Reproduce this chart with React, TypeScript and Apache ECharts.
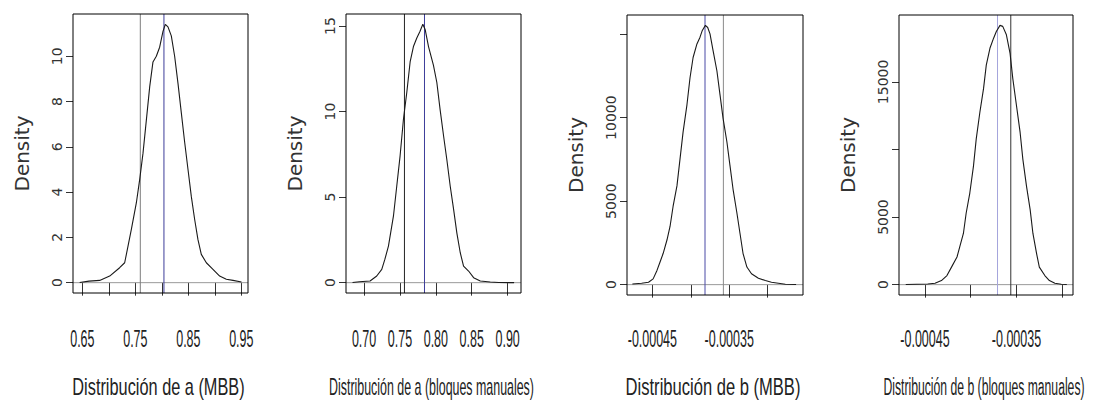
import React, { useEffect, useRef } from "react";
import * as echarts from "echarts";

// ---- Data ----
const xA1 = [0.645, 0.6626, 0.6827, 0.7016, 0.7204, 0.7299, 0.7362, 0.7425, 0.7519, 0.7582, 0.7645, 0.7708, 0.7771, 0.7833, 0.7896, 0.7959, 0.8022, 0.8066, 0.8116, 0.8179, 0.8242, 0.8305, 0.8368, 0.8431, 0.8494, 0.8557, 0.8619, 0.8682, 0.8745, 0.884, 0.8965, 0.9091, 0.9217, 0.9343, 0.9503];
const yA1 = [0.01, 0.07, 0.1, 0.29, 0.66, 0.88, 1.61, 2.35, 3.52, 4.55, 5.72, 7.18, 8.65, 9.75, 10.0, 10.4, 11.1, 11.41, 11.3, 10.9, 10.0, 8.8, 7.5, 6.2, 5.0, 3.8, 2.8, 1.9, 1.25, 0.88, 0.59, 0.29, 0.15, 0.1, 0.03];

const xA2 = [0.684, 0.6935, 0.7084, 0.7177, 0.7247, 0.729, 0.734, 0.741, 0.7456, 0.7502, 0.7549, 0.7595, 0.7642, 0.7688, 0.7735, 0.778, 0.7819, 0.7851, 0.7898, 0.7967, 0.8014, 0.806, 0.8107, 0.8153, 0.82, 0.8247, 0.8293, 0.834, 0.8386, 0.8456, 0.8526, 0.8619, 0.8758, 0.8874, 0.909];
const yA2 = [0.01, 0.05, 0.1, 0.39, 0.78, 1.36, 2.14, 3.9, 5.65, 7.4, 9.55, 11.1, 12.9, 13.8, 14.3, 14.7, 15.1, 14.8, 13.8, 12.7, 11.7, 10.1, 8.6, 7.2, 5.65, 4.3, 2.9, 1.75, 0.97, 0.68, 0.29, 0.1, 0.04, 0.01, 0.0];

const xB1 = [-0.000476, -0.000464, -0.000455, -0.000449, -0.000444, -0.00044, -0.000436, -0.000431, -0.000427, -0.000423, -0.000418, -0.000414, -0.00041, -0.000405, -0.000401, -0.000397, -0.000392, -0.000388, -0.000385, -0.000381, -0.000378, -0.000375, -0.000371, -0.000366, -0.000362, -0.000358, -0.000353, -0.000349, -0.000345, -0.00034, -0.000336, -0.000332, -0.000327, -0.000321, -0.000312, -0.000303, -0.000295, -0.000286, -0.000277, -0.000263];
const yB1 = [40, 81, 142, 344, 850, 1356, 1862, 2672, 3482, 4696, 5911, 7530, 9150, 10769, 12389, 13603, 14413, 14818, 15223, 15526, 15400, 15020, 14008, 12794, 11377, 9960, 8543, 7126, 5709, 4291, 3077, 1862, 1053, 648, 385, 243, 142, 81, 20, 5];

const xB2 = [-0.000471, -0.000447, -0.000439, -0.000432, -0.000426, -0.000421, -0.000415, -0.000412, -0.000408, -0.000405, -0.000401, -0.000397, -0.000394, -0.00039, -0.000386, -0.000383, -0.000379, -0.000375, -0.000372, -0.000368, -0.000365, -0.000361, -0.000357, -0.000354, -0.00035, -0.000346, -0.000343, -0.000339, -0.000335, -0.000332, -0.000328, -0.000325, -0.000319, -0.000314, -0.000308, -0.000301, -0.000295];
const yB2 = [5, 50, 100, 299, 673, 1295, 2043, 2790, 3786, 5281, 6776, 8768, 10761, 12754, 14498, 16241, 17487, 18234, 18732, 19181, 19106, 18483, 17113, 15245, 13252, 11259, 9267, 7274, 5530, 3786, 2292, 1295, 673, 299, 100, 25, 5];

// vertical reference lines
const vA1 = [0.7594, 0.804];
const vA2 = [0.7563, 0.7842];
const vB1 = [-0.0003815, -0.0003576];
const vB2 = [-0.0003707, -0.0003562];

// axis ticks and labels
const xTicksA1 = [0.65, 0.7, 0.75, 0.8, 0.85, 0.9, 0.95];
const xLabelsA1 = [0.65, 0.75, 0.85, 0.95];
const xTicksA2 = [0.7, 0.75, 0.8, 0.85, 0.9];
const xLabelsA2 = [0.7, 0.75, 0.8, 0.85, 0.9];
const xTicksB = [-0.00045, -0.0004, -0.00035, -0.0003];
const xLabelsB = [-0.00045, -0.00035];
const yTicksA1 = [0, 2, 4, 6, 8, 10];
const yTicksA2 = [0, 5, 10, 15];
const yTicksB = [0, 5000, 10000, 15000];
const yLabelsB1 = [0, 5000, 10000];
const yLabelsB2 = [0, 5000, 15000];

const titles = [
  "Distribución de a (MBB)",
  "Distribución de a (bloques manuales)",
  "Distribución de b (MBB)",
  "Distribución de b (bloques manuales)",
];

const SANS = "'Liberation Sans', Arial, sans-serif";
const WIDE = "'DejaVu Sans', Arial, sans-serif";

export default function App() {
  const ref = useRef<HTMLDivElement>(null);
  useEffect(() => {
    if (!ref.current) return;
    const chart = echarts.init(ref.current, null, { renderer: "svg" });

    const panels = [
      { xs: xA1, ys: yA1, v: vA1, vc: ["#7c7c7c", "#3d3d9a"], xmin: 0.6324, xmax: 0.9626, xt: xTicksA1, xl: xLabelsA1, yt: yTicksA1, yl: yTicksA1, dec: 2, grid: { left: 73, top: 14, width: 175, height: 279 }, tsx: 0.71 },
      { xs: xA2, ys: yA2, v: vA2, vc: ["#222222", "#3d3d9a"], xmin: 0.6749, xmax: 0.9186, xt: xTicksA2, xl: xLabelsA2, yt: yTicksA2, yl: yTicksA2, dec: 2, grid: { left: 346, top: 14, width: 175, height: 279 }, tsx: 0.54 },
      { xs: xB1, ys: yB1, v: vB1, vc: ["#4a4aa6", "#8a8a8a"], xmin: -0.000483, xmax: -0.000254, xt: xTicksB, xl: xLabelsB, yt: yTicksB, yl: yLabelsB1, dec: 5, grid: { left: 627, top: 15, width: 176, height: 280 }, tsx: 0.72 },
      { xs: xB2, ys: yB2, v: vB2, vc: ["#a4a4dc", "#333333"], xmin: -0.0004784, xmax: -0.0002882, xt: xTicksB, xl: xLabelsB, yt: yTicksB, yl: yLabelsB2, dec: 5, grid: { left: 899, top: 15, width: 174, height: 280 }, tsx: 0.53 },
    ];
    const yLim = panels.map((p) => {
      const m = Math.max(...p.ys);
      return [-m * 0.04, m * 1.04];
    });

    const series: any[] = [];
    panels.forEach((p, i) => {
      // horizontal zero line
      series.push({
        type: "line", xAxisIndex: i, yAxisIndex: i, showSymbol: false, silent: true,
        lineStyle: { color: "#9a9a9a", width: 1 },
        data: [[p.xmin, 0], [p.xmax, 0]], z: 1,
      });
      // vertical reference lines
      p.v.forEach((v, k) => {
        series.push({
          type: "line", xAxisIndex: i, yAxisIndex: i, showSymbol: false, silent: true,
          lineStyle: { color: p.vc[k], width: 1 },
          data: [[v, yLim[i][0]], [v, yLim[i][1]]], z: 2,
        });
      });
      // density curve
      series.push({
        type: "line", xAxisIndex: i, yAxisIndex: i, showSymbol: false, smooth: false,
        lineStyle: { color: "#1a1a1a", width: 1.1 },
        data: p.xs.map((x, k) => [x, p.ys[k]]), z: 3,
      });
    });

    const option: any = {
      animation: false,
      backgroundColor: "#ffffff",
      grid: panels.map((p) => ({ ...p.grid, show: true, borderColor: "#000", borderWidth: 1, backgroundColor: "transparent", z: 5 })),
      xAxis: panels.map((p, i) => ({
        type: "value",
        gridIndex: i,
        min: p.xmin,
        max: p.xmax,
        axisLine: { show: false },
        splitLine: { show: false },
        axisTick: { show: true, length: 13, customValues: p.xt, lineStyle: { color: "#333" } },
        axisLabel: { show: false },
      })),
      yAxis: panels.map((p, i) => ({
        type: "value",
        gridIndex: i,
        min: yLim[i][0],
        max: yLim[i][1],
        axisLine: { show: false },
        splitLine: { show: false },
        axisTick: { show: true, length: 7, customValues: p.yt, lineStyle: { color: "#333" } },
        axisLabel: {
          customValues: p.yl,
          rotate: 90,
          margin: 9,
          fontFamily: WIDE,
          fontSize: 14,
          color: "#333",
          formatter: (v: number) => String(v),
        },
        name: "Density",
        nameLocation: "middle",
        nameRotate: 90,
        nameGap: 41,
        nameTextStyle: { fontFamily: WIDE, fontSize: 20, color: "#333" },
      })),
      series,
    };
    chart.setOption(option);

    // x tick labels and axis titles: condensed text placed through the axes' scales
    const graphics: any[] = [];
    panels.forEach((p, i) => {
      p.xl.forEach((v) => {
        const px = chart.convertToPixel({ xAxisIndex: i }, v) as number;
        graphics.push({
          type: "text", x: px, y: 339, scaleX: 0.52, silent: true,
          style: { text: v.toFixed(p.dec), font: `24px ${SANS}`, fill: "#222", align: "center", verticalAlign: "middle" },
        });
      });
      const cx = p.grid.left + p.grid.width / 2 - 2;
      graphics.push({
        type: "text", x: cx, y: 387, scaleX: p.tsx, silent: true,
        style: { text: titles[i], font: `23px ${SANS}`, fill: "#222", align: "center", verticalAlign: "middle" },
      });
    });
    chart.setOption({ graphic: graphics });

    return () => chart.dispose();
  }, []);
  return <div ref={ref} style={{ position: "fixed", left: 0, top: 0, width: 1094, height: 407, background: "#fff" }} />;
}
